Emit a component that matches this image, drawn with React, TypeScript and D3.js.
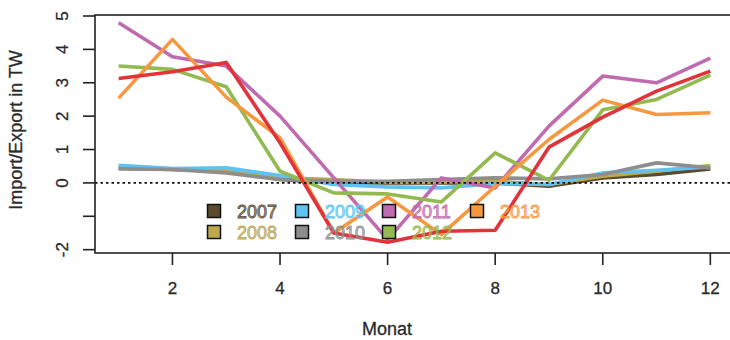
import React from "react";
import * as d3 from "d3";

const months = [1, 2, 3, 4, 5, 6, 7, 8, 9, 10, 11, 12];
const years = ["2007", "2008", "2009", "2010", "2011", "2012", "2013", "2014"];
const colors = ["#5B4A2B", "#BDA84C", "#5CC3F2", "#8E8E8E", "#C06BB0", "#93BA50", "#F7983F", "#E3333A"];

const v2007 = [0.45, 0.4, 0.35, 0.1, 0.0, 0.0, 0.0, 0.0, -0.1, 0.15, 0.25, 0.42];
const v2008 = [0.5, 0.42, 0.38, 0.15, 0.1, 0.02, 0.02, 0.05, -0.05, 0.2, 0.35, 0.52];
const v2009 = [0.53, 0.43, 0.45, 0.22, -0.05, -0.12, -0.15, -0.02, -0.05, 0.3, 0.38, 0.48];
const v2010 = [0.42, 0.4, 0.3, 0.1, 0.05, 0.05, 0.1, 0.15, 0.12, 0.25, 0.6, 0.45];
const v2011 = [4.8, 3.78, 3.5, 2.0, 0.15, -1.7, 0.15, -0.15, 1.7, 3.2, 3.0, 3.74];
const v2012 = [3.5, 3.4, 2.88, 0.35, -0.3, -0.33, -0.57, 0.9, 0.08, 2.19, 2.5, 3.23];
const v2013 = [2.54, 4.3, 2.57, 1.35, -1.5, -0.42, -1.55, -0.1, 1.3, 2.48, 2.05, 2.1];
const v2014 = [3.13, 3.33, 3.61, 1.2, -1.5, -1.78, -1.45, -1.42, 1.07, 1.97, 2.75, 3.35];
const series = [v2007, v2008, v2009, v2010, v2011, v2012, v2013, v2014];

const yTicks = [-2, -1, 0, 1, 2, 3, 4, 5];
const yTickLabels = ["-2", "", "0", "1", "2", "3", "4", "5"];
const xTicks = [2, 4, 6, 8, 10, 12];
const legendYears = ["2007", "2009", "2011", "2013", "2008", "2010", "2012"];

const FONT = "'Liberation Sans', Arial, sans-serif";

export default function App() {
  const x = d3.scaleLinear().domain([0.56, 12.44]).range([95, 734]);
  const y = d3.scaleLinear().domain([-2.1, 5.03]).range([253, 15]);
  const line = d3
    .line<number>()
    .x((_, i) => x(months[i]))
    .y((d) => y(d));

  const axisColor = "#222";
  const legendCols = [214, 302, 389, 477];
  const legendRows = [211, 232];

  return (
    <svg
      width={730}
      height={340}
      style={{ position: "absolute", left: 0, top: 0, background: "#fff" }}
      fontFamily={FONT}
    >
      <rect x={0} y={0} width={730} height={340} fill="#fff" />
      {series.map((s, i) => (
        <path
          key={years[i]}
          d={line(s) || ""}
          fill="none"
          stroke={colors[i]}
          strokeWidth={3.6}
          strokeLinejoin="round"
        />
      ))}
      <line
        x1={x.range()[0]}
        x2={x.range()[1]}
        y1={y(0)}
        y2={y(0)}
        stroke="#111"
        strokeWidth={1.6}
        strokeDasharray="2.5,3"
      />
      <rect
        x={x.range()[0]}
        y={y.range()[1]}
        width={x.range()[1] - x.range()[0]}
        height={y.range()[0] - y.range()[1]}
        fill="none"
        stroke={axisColor}
        strokeWidth={1.6}
      />
      {yTicks.map((t, i) => (
        <g key={"y" + t}>
          <line x1={83} x2={95} y1={y(t)} y2={y(t)} stroke={axisColor} strokeWidth={1.6} />
          {yTickLabels[i] && (
            <text
              transform={`translate(${68},${y(t)}) rotate(-90)`}
              textAnchor="middle"
              fontSize={17}
              fill="#2a2a2a"
              stroke="#2a2a2a"
              strokeWidth={0.3}
            >
              {yTickLabels[i]}
            </text>
          )}
        </g>
      ))}
      {xTicks.map((t) => (
        <g key={"x" + t}>
          <line x1={x(t)} x2={x(t)} y1={253} y2={265} stroke={axisColor} strokeWidth={1.6} />
          <text
            x={x(t)}
            y={294}
            textAnchor="middle"
            fontSize={17}
            fill="#2a2a2a"
            stroke="#2a2a2a"
            strokeWidth={0.3}
          >
            {t}
          </text>
        </g>
      ))}
      <text
        x={387}
        y={335}
        textAnchor="middle"
        fontSize={18}
        fill="#2a2a2a"
        stroke="#2a2a2a"
        strokeWidth={0.3}
      >
        Monat
      </text>
      <text
        transform={`translate(${22},${130}) rotate(-90)`}
        textAnchor="middle"
        fontSize={18}
        fill="#2a2a2a"
        stroke="#2a2a2a"
        strokeWidth={0.3}
      >
        Import/Export in TW
      </text>
      {legendYears.map((yr, k) => {
        const idx = years.indexOf(yr);
        const col = k < 4 ? k : k - 4;
        const row = k < 4 ? 0 : 1;
        const cx = legendCols[col];
        const cy = legendRows[row];
        return (
          <g key={"lg" + yr}>
            <rect
              x={cx - 6.5}
              y={cy - 6.5}
              width={13}
              height={13}
              fill={colors[idx]}
              stroke="#111"
              strokeWidth={1.5}
            />
            <text
              x={cx + 23}
              y={cy + 6.5}
              fontSize={18}
              fill={colors[idx]}
              fillOpacity={0.5}
              stroke={colors[idx]}
              strokeWidth={0.8}
            >
              {yr}
            </text>
          </g>
        );
      })}
    </svg>
  );
}
